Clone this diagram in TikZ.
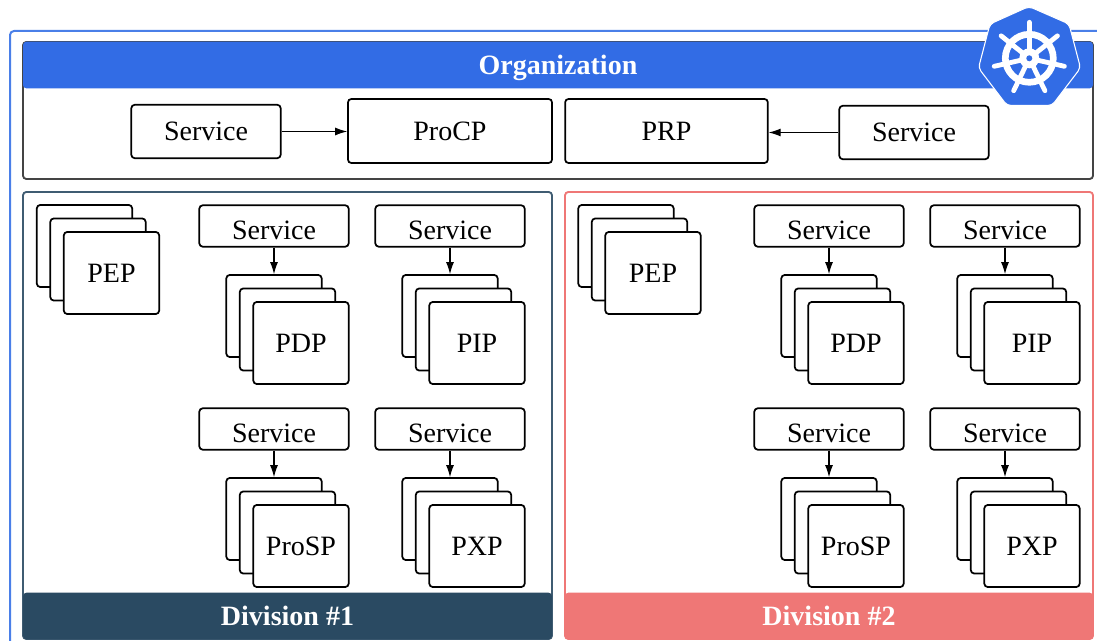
\documentclass[tikz,border=0pt]{standalone}
\usepackage{fontspec}
\setmainfont{Liberation Serif}
\usetikzlibrary{positioning,shapes,arrows.meta}
\definecolor{kubeblue}{HTML}{326CE5}
\definecolor{outerblue}{HTML}{4A7FE8}
\definecolor{orgline}{HTML}{444444}
\definecolor{divone}{HTML}{2A4A62}
\definecolor{divtwo}{HTML}{EF7776}
\tikzset{
    every picture/.style={line width=1pt},
    box/.style={draw=black, fill=white, line width=1.3pt, rounded corners=2.5pt, font=\fontsize{21}{21}\selectfont, inner sep=0pt},
    servicebox/.style={box, minimum width=112pt, minimum height=31pt},
    lowtext/.style={text height=20pt, text depth=0pt},
    stackbox/.style={box, minimum width=71.5pt, minimum height=61.5pt},
    areabox/.style={line width=1.4pt, rounded corners=2.5pt},
    header/.style={rounded corners=2.5pt, inner sep=0pt, text=white, text height=14pt, text depth=0pt, font=\fontsize{21}{21}\selectfont\bfseries},
    link/.style={-{Latex[length=9pt,width=6pt]}, line width=0.8pt}
}
% Three boxes behind each other, #1 is the name, (#2,#3) the centre of the rear one
\newcommand{\boxstack}[4]{
    \node[stackbox] (#1a) at (#2,#3) {};
    \node[stackbox] (#1b) at (#2+13.5,#3+13.5) {};
    \node[stackbox] (#1c) at (#2+27,#3+27) {#4};
}
\begin{document}
\begin{tikzpicture}[x=0.75pt, y=-0.75pt]
    \useasboundingbox (0,0) rectangle (1097,641);

    % Cluster
    \draw[outerblue, line width=1.5pt, rounded corners=3pt] (1097,31) -- (10,31) -- (10,641);

    % Organization
    \draw[orgline, areabox] (23,42) rectangle (1093,179);
    \node[header, fill=kubeblue, minimum width=802.5pt, minimum height=35pt] (org) at (558,65) {Organization};
    \node[servicebox, minimum height=40pt] (orgsvca) at (206,131.5) {Service};
    \node[box, minimum width=153pt, minimum height=48pt] (procp) at (450,131) {ProCP};
    \node[box, minimum width=152pt, minimum height=48pt] (prp) at (666.5,131) {PRP};
    \node[servicebox, minimum height=40pt] (orgsvcb) at (914,132.5) {Service};
    \draw[link] (orgsvca.east) -- (orgsvca.east -| procp.west);
    \draw[link] (orgsvcb.west) -- (orgsvcb.west -| prp.east);

    % Divisions
    \draw[divone!90!white, areabox] (23,192) rectangle (552,639);
    \node[header, fill=divone, minimum width=396.5pt, minimum height=35pt] (divA) at (287.5,616) {Division \#1};
    \draw[divtwo, areabox] (565,192) rectangle (1093,639);
    \node[header, fill=divtwo, minimum width=396pt, minimum height=35pt] (divB) at (829,616) {Division \#2};

    \boxstack{pepA}{84.5}{246}{PEP}
    \boxstack{pepB}{626}{246}{PEP}

    % Services with their stacks
    \foreach \n/\x/\y/\t in {pdpA/274/226/PDP, pipA/450/226/PIP, prospA/274/429/ProSP, pxpA/450/429/PXP,
                             pdpB/829/226/PDP, pipB/1005/226/PIP, prospB/829/429/ProSP, pxpB/1005/429/PXP} {
        \node[servicebox, lowtext] (\n svc) at (\x,\y) {Service};
        \boxstack{\n}{\x}{\y+90}{\t}
        \draw[link] (\n svc) -- (\n a);
    }

    % Logo
    \fill[kubeblue, draw=white, line width=0.8pt, rounded corners=3pt] (1029,6.5) -- (1069,24) -- (1080.5,68) -- (1052,105.5) -- (1007,105.5) -- (978.5,68) -- (990,24) -- cycle;
    \draw[white, line width=5pt] (1029.3,58.3) circle (24);
    \foreach \a in {90,141.43,192.86,244.29,295.71,347.14,398.57} {
        \draw[white, line width=3.6pt, line cap=round] (1029.3,58.3) -- +({\a}:-36);
    }
    \fill[white] (1029.3,58.3) circle (10);
    \fill[kubeblue] (1029.3,58.3) circle (3);
\end{tikzpicture}
\end{document}
